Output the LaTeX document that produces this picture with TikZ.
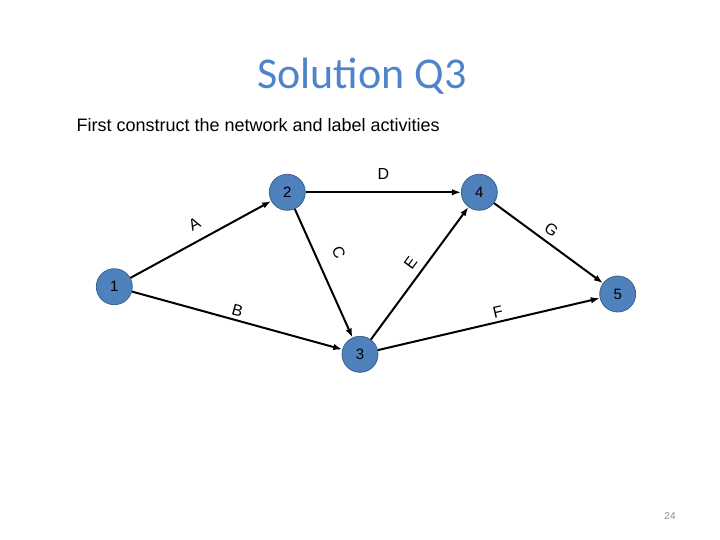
\documentclass[tikz,border=0pt]{standalone}
\usepackage{fontspec}
\setmainfont{Liberation Sans}
\newfontfamily\titlefont{Carlito}
\usepackage{xcolor}
\usetikzlibrary{arrows.meta,positioning}
\definecolor{evfill}{HTML}{4F81BD}
\definecolor{evline}{HTML}{385D8A}
\definecolor{titleblue}{HTML}{4F84CA}
\tikzset{
  evnode/.style={circle, draw=evline, line width=0.75pt, fill=evfill,
                 minimum size=36pt, inner sep=0pt,
                 font=\fontsize{15}{18}\selectfont},
  actarr/.style={-{Latex[length=9pt,width=6.5pt]}, line width=2pt, draw=black},
  actlbl/.style={sloped, inner sep=1pt, font=\fontsize{16}{19}\selectfont},
}

\begin{document}
\begin{tikzpicture}[x=1pt, y=-1pt]
  \useasboundingbox (0,0) rectangle (720,540);
  % heading
  \node[anchor=base, text=titleblue, font=\titlefont\fontsize{44}{52}\selectfont] (title) at (362,89) {Solution Q3};
  \node[anchor=base west, font=\fontsize{18}{22}\selectfont] (intro) at (73,132) {First construct the network and label activities};
  % events
  \node[evnode] (n1) at (114.3,286.7) {1};
  \node[evnode] (n2) at (287.3,192.3) {2};
  \node[evnode] (n3) at (360,354.3)   {3};
  \node[evnode] (n4) at (479.3,192.3) {4};
  \node[evnode] (n5) at (617.7,294)   {5};
  % activities
  \draw[actarr] (n1) -- node[actlbl, pos=0.51, above=8.8pt]  {A} (n2);
  \draw[actarr] (n1) -- node[actlbl, pos=0.49, above=1.7pt]  {B} (n3);
  \draw[actarr] (n2) -- node[actlbl, pos=0.41, above=14.7pt] {C} (n3);
  \draw[actarr] (n2) -- node[actlbl, pos=0.5,  above=10.3pt] {D} (n4);
  \draw[actarr] (n3) -- node[actlbl, pos=0.52, above=6.2pt]  {E} (n4);
  \draw[actarr] (n3) -- node[actlbl, pos=0.55, above=2.1pt]  {F} (n5);
  \draw[actarr] (n4) -- node[actlbl, pos=0.46, above=4.6pt]  {G} (n5);
  % slide number
  \node[anchor=base, text=black!45, font=\fontsize{10}{12}\selectfont] (pgno) at (670,519) {24};
\end{tikzpicture}
\end{document}
